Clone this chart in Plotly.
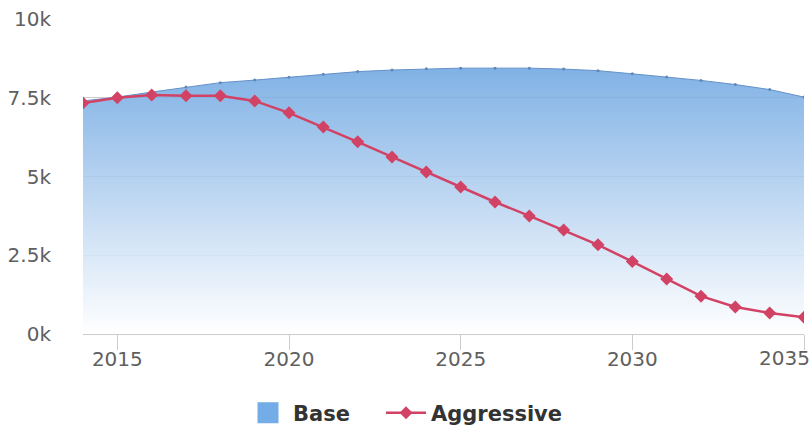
import plotly.graph_objects as go

years = list(range(2014, 2036))
base = [7.40, 7.52, 7.68, 7.84, 7.98, 8.06, 8.15, 8.25, 8.33, 8.38, 8.42, 8.44,
        8.44, 8.44, 8.41, 8.36, 8.26, 8.16, 8.05, 7.92, 7.76, 7.52]
aggressive = [7.33, 7.50, 7.59, 7.56, 7.56, 7.40, 7.02, 6.57, 6.10, 5.62, 5.14, 4.67,
              4.19, 3.75, 3.30, 2.83, 2.30, 1.75, 1.20, 0.86, 0.67, 0.53]
base = [v * 1000 for v in base]
aggressive = [v * 1000 for v in aggressive]

y_ticks = [0, 2500, 5000, 7500, 10000]
y_tick_text = ["0k", "2.5k", "5k", "7.5k", "10k"]
x_ticks = [2015, 2020, 2025, 2030, 2035]
# the last label is drawn separately, pulled inside the right edge
x_tick_text = [str(t) for t in x_ticks[:-1]] + [""]

blue_top = "rgba(108,165,225,0.86)"
red = "rgb(210,66,100)"
tick_color = "#606060"
legend_font = dict(family="DejaVu Sans", size=21, color="#333333", weight="bold")

fig = go.Figure()
# Base scenario: area with a vertical white-to-blue gradient
fig.add_trace(go.Scatter(
    x=years, y=base, name="Base", mode="lines+markers",
    line=dict(color="rgb(100,145,200)", width=1),
    marker=dict(size=3, color="rgb(95,135,185)"),
    fill="tozeroy",
    fillgradient=dict(type="vertical",
                      colorscale=[[0, "rgba(255,255,255,0.85)"], [1, blue_top]]),
    showlegend=False,
))
# legend swatch for the Base area
fig.add_trace(go.Scatter(
    x=[None], y=[None], name="Base", mode="markers", legend="legend",
    marker=dict(symbol="square", size=16, color="rgb(115,172,230)",
                line=dict(color="rgb(115,172,230)", width=5)),
))
fig.add_trace(go.Scatter(
    x=years, y=aggressive, name="Aggressive", mode="lines+markers",
    legend="legend2",
    line=dict(color=red, width=2.5),
    marker=dict(symbol="diamond", size=10, color=red),
))

fig.add_annotation(
    x=x_ticks[-1], y=0, xref="x", yref="y", text=str(x_ticks[-1]),
    showarrow=False, xanchor="right", yanchor="top", xshift=8, yshift=-10,
    font=dict(family="DejaVu Sans", size=20, color=tick_color),
)

legend_common = dict(orientation="h", xref="container", xanchor="left",
                     yref="container", y=0.048, yanchor="middle",
                     font=legend_font, itemwidth=40)
fig.update_layout(
    width=812, height=434,
    margin=dict(l=83, r=8, t=19, b=100),
    paper_bgcolor="white", plot_bgcolor="white",
    font=dict(family="DejaVu Sans", color=tick_color, size=20),
    legend=dict(x=243 / 812, **legend_common),
    legend2=dict(x=381 / 812, **legend_common),
)
fig.update_xaxes(
    range=[2014, 2035], tickvals=x_ticks, ticktext=x_tick_text, showgrid=False,
    showline=True, linecolor="#cccccc", linewidth=1,
    ticks="outside", ticklen=15, tickcolor="#cccccc",
    ticklabelstandoff=-8, tickfont=dict(size=20),
    zeroline=False, automargin=False,
)
fig.update_yaxes(
    range=[0, 10000], tickvals=y_ticks, ticktext=y_tick_text,
    showgrid=True, gridcolor="#cdcdcd", gridwidth=1,
    zeroline=False, ticklabelstandoff=31, tickfont=dict(size=20),
    automargin=False,
)

fig.write_html("out.html")
